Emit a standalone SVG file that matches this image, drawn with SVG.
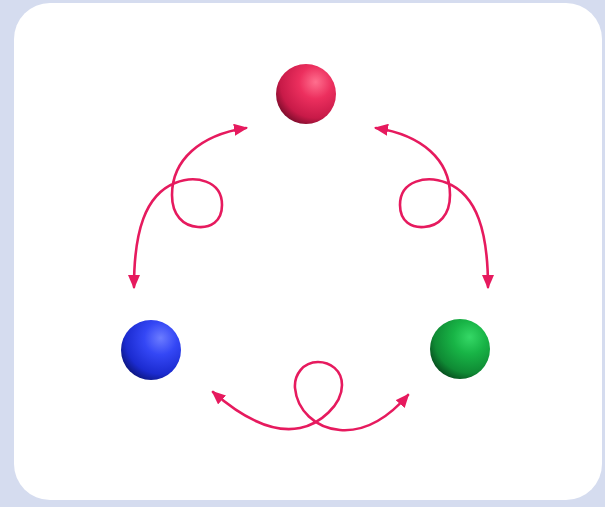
<svg xmlns="http://www.w3.org/2000/svg" width="605" height="507" viewBox="0 0 605 507">
<style>
.conn{fill:none;stroke:#e61a5e;stroke-width:2.6;stroke-linecap:round;stroke-linejoin:round}
</style>
<defs>
<marker id="ah" viewBox="0 0 14 12" refX="12" refY="6" markerWidth="14" markerHeight="12" markerUnits="userSpaceOnUse" orient="auto-start-reverse">
<path d="M0,0 L14,6 L0,12 Z" fill="#e61a5e"/>
</marker>
<radialGradient id="gRed" cx="0.66" cy="0.32" r="0.78" fx="0.66" fy="0.3">
<stop offset="0" stop-color="#ff6f8e"/>
<stop offset="0.35" stop-color="#ec2f5e"/>
<stop offset="0.75" stop-color="#c81a48"/>
<stop offset="1" stop-color="#6e0a26"/>
</radialGradient>
<radialGradient id="gBlue" cx="0.66" cy="0.32" r="0.78" fx="0.66" fy="0.3">
<stop offset="0" stop-color="#6c7cff"/>
<stop offset="0.35" stop-color="#3447f5"/>
<stop offset="0.75" stop-color="#1b2bd0"/>
<stop offset="1" stop-color="#0a1270"/>
</radialGradient>
<radialGradient id="gGreen" cx="0.66" cy="0.32" r="0.78" fx="0.66" fy="0.3">
<stop offset="0" stop-color="#35d866"/>
<stop offset="0.35" stop-color="#18b446"/>
<stop offset="0.75" stop-color="#0f8a34"/>
<stop offset="1" stop-color="#06421a"/>
</radialGradient>
</defs>
<rect x="0" y="0" width="605" height="507" fill="#d5dcef"/>
<rect x="14" y="3" width="588" height="497" rx="36" ry="36" fill="#ffffff"/>
<g id="connectors">
<path class="conn" marker-start="url(#ah)" marker-end="url(#ah)" d="M134,287 C134,232 145,195 175,183 C195,175 222,180 222,205 C222,222 210,228 198,227 C183,226 172,215 172,195 C172,160 200,135 246,128"/>
<path class="conn" marker-start="url(#ah)" marker-end="url(#ah)" d="M488,287 C488,232 477,195 447,183 C427,175 400,180 400,205 C400,222 412,228 424,227 C439,226 450,215 450,195 C450,160 422,135 376,128"/>
<path class="conn" marker-start="url(#ah)" marker-end="url(#ah)" d="M213,392 C245,420 275,433 300,428 C320,424 342,405 342,385 C342,370 330,362 318,362 C303,362 294,375 295,388 C297,410 315,428 340,430 C365,432 388,418 408,395"/>
</g>
<g id="node-red"><circle cx="306" cy="94" r="30" fill="url(#gRed)"/></g>
<g id="node-blue"><circle cx="151" cy="350" r="30" fill="url(#gBlue)"/></g>
<g id="node-green"><circle cx="460" cy="349" r="30" fill="url(#gGreen)"/></g>
</svg>
